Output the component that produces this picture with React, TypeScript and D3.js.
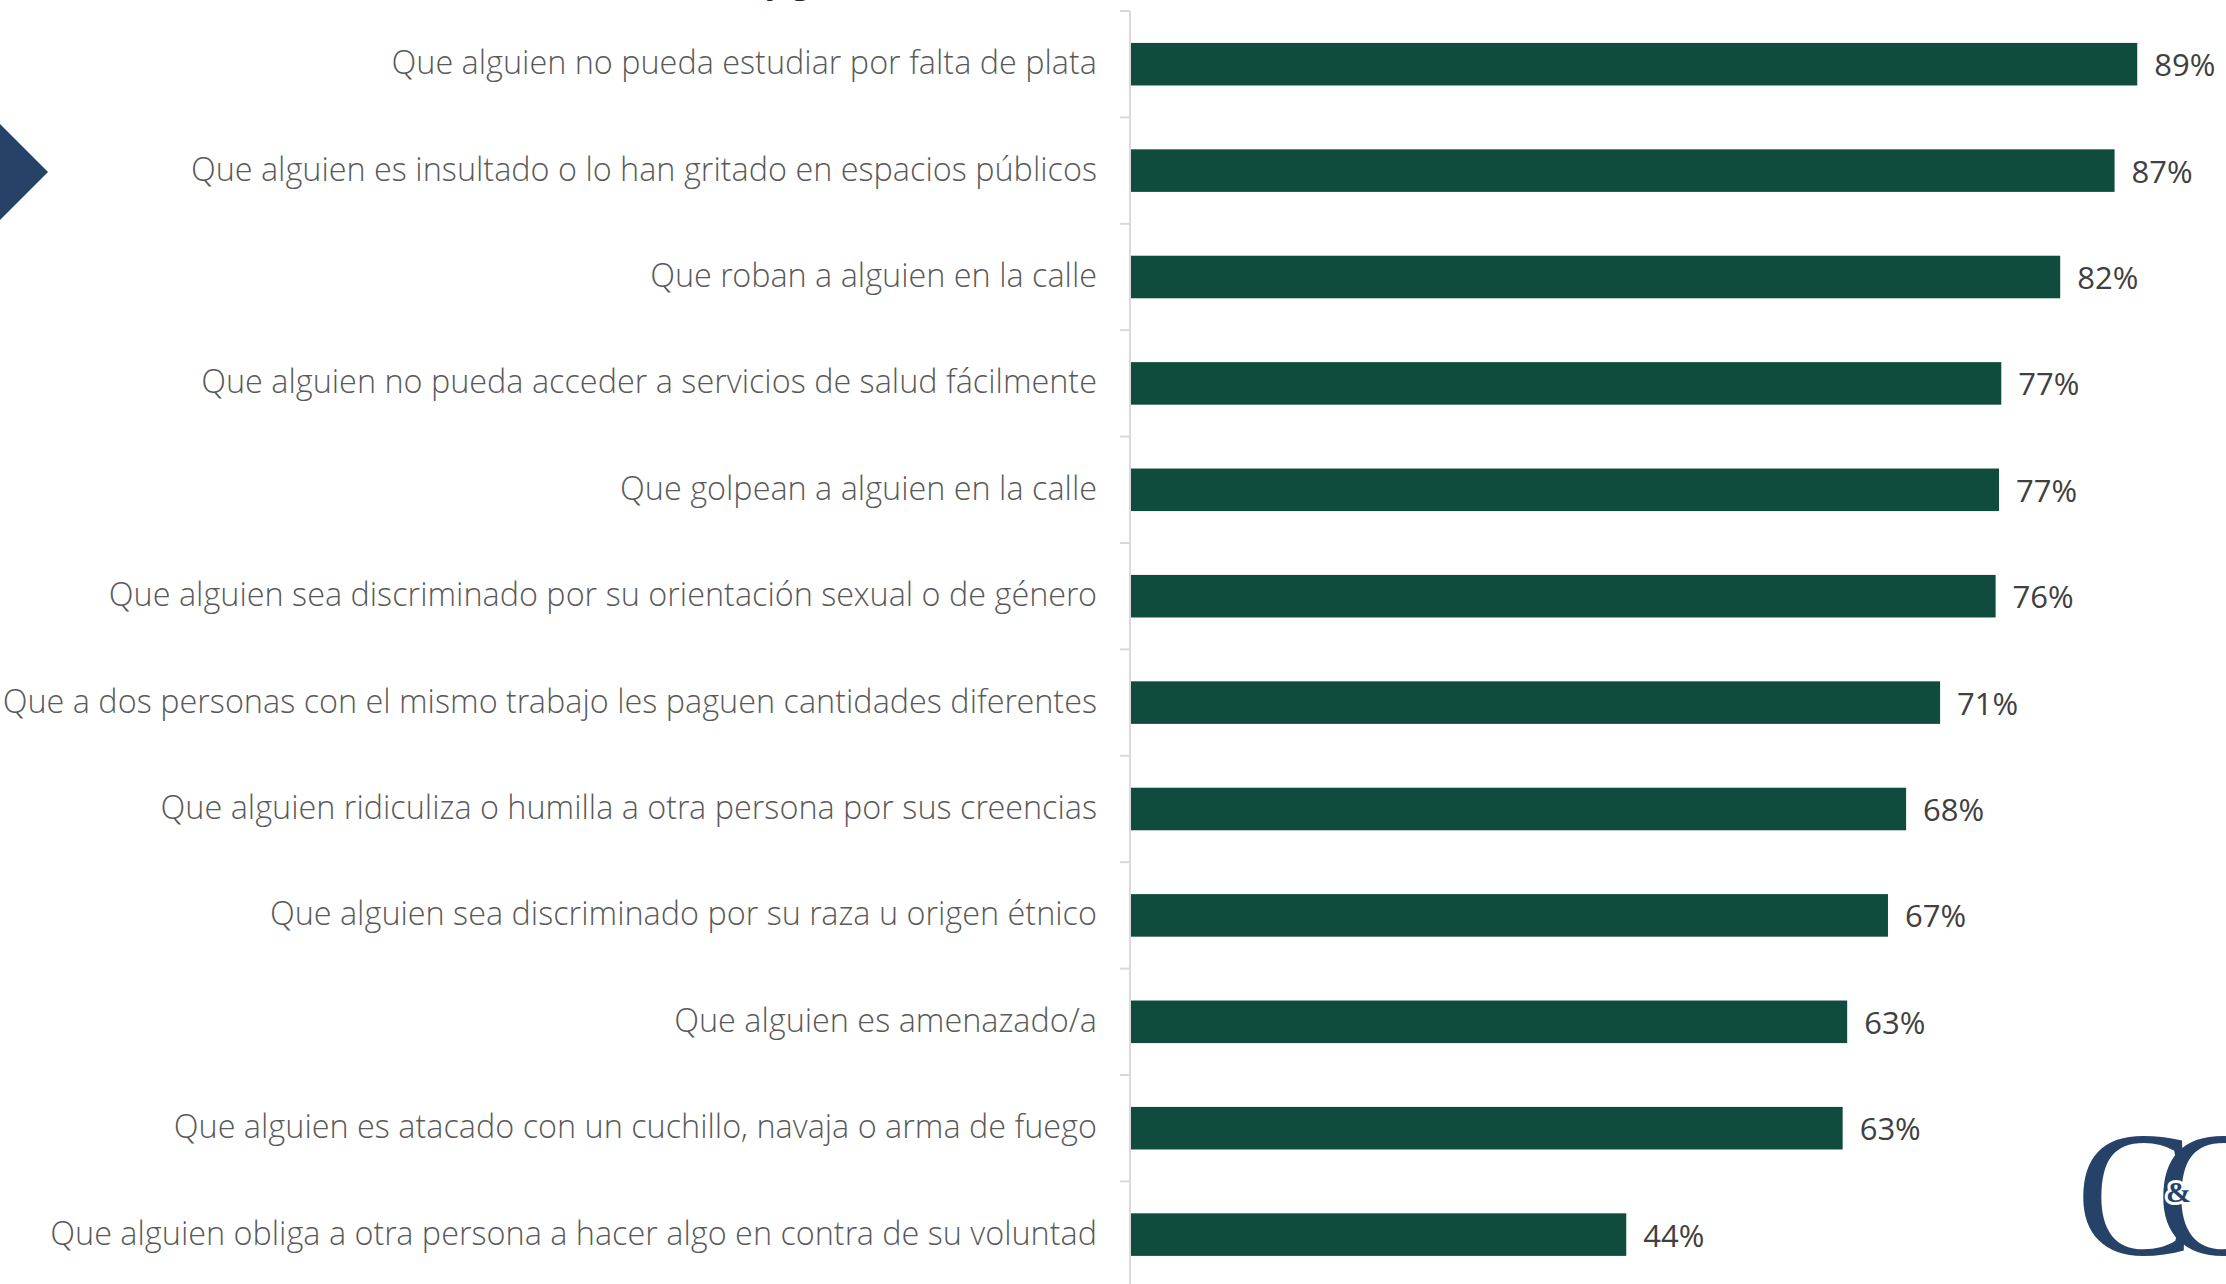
import React from 'react';
import * as d3 from 'd3';

// categories, top to bottom
const categories = [
    'Que alguien no pueda estudiar por falta de plata',
    'Que alguien es insultado o lo han gritado en espacios públicos',
    'Que roban a alguien en la calle',
    'Que alguien no pueda acceder a servicios de salud fácilmente',
    'Que golpean a alguien en la calle',
    'Que alguien sea discriminado por su orientación sexual o de género',
    'Que a dos personas con el mismo trabajo les paguen cantidades diferentes',
    'Que alguien ridiculiza o humilla a otra persona por sus creencias',
    'Que alguien sea discriminado por su raza u origen étnico',
    'Que alguien es amenazado/a',
    'Que alguien es atacado con un cuchillo, navaja o arma de fuego',
    'Que alguien obliga a otra persona a hacer algo en contra de su voluntad',
];

// bar lengths (percent)
const values = [88.9, 86.9, 82.1, 76.9, 76.7, 76.4, 71.5, 68.5, 66.9, 63.3, 62.9, 43.8];

// printed labels
const valueLabels = ['89%', '87%', '82%', '77%', '77%', '76%', '71%', '68%', '67%', '63%', '63%', '44%'];

const W = 2226;
const H = 1284;

const App = () => {
    const axisX = 1130;
    const x = d3.scaleLinear().domain([0, 100]).range([axisX, axisX + 1133]);
    const y = d3.scaleBand<number>()
        .domain(d3.range(categories.length))
        .range([11, 11 + 106.4 * categories.length])
        .paddingInner(0.6)
        .paddingOuter(0.3);

    const step = y.step();
    const ticks = d3.range(categories.length + 1).map(i => 11 + i * step);

    const navy = '#264269';

    return (
        <svg width={W} height={H} style={{ position: 'absolute', left: 0, top: 0, background: '#fff' }}>
            {/* clipped title descenders at the very top */}
            <text x={766} y={-6} fontFamily="'Open Sans', sans-serif" fontWeight={700} fontSize={31} fill="#262626">y g</text>

            {/* left marker */}
            <path d={d3.line()([[0, 124], [48, 172], [0, 220]]) + 'Z'} fill={navy} />

            {/* axis */}
            <line x1={axisX} x2={axisX} y1={11} y2={H} stroke="#d9d9d9" strokeWidth={2} />
            {ticks.map((t, i) => (
                <line key={i} x1={axisX - 10} x2={axisX} y1={t} y2={t} stroke="#d9d9d9" strokeWidth={2} />
            ))}

            {categories.map((c, i) => {
                const cy = (y(i) ?? 0) + y.bandwidth() / 2;
                return (
                    <g key={c}>
                        <text x={1097} y={cy + 10} textAnchor="end" fontFamily="'Open Sans Light', 'Open Sans', sans-serif"
                            fontWeight={300} fontSize={32.4} fill="#595959">{c}</text>
                        <rect x={x(0) + 1} y={y(i)} width={x(values[i]) - x(0) - 1} height={y.bandwidth()}
                            fill="#0f4c3e" />
                        <text x={x(values[i]) + 17} y={cy + 12} fontFamily="'Open Sans', sans-serif"
                            fontSize={31} fill="#404040">{valueLabels[i]}</text>
                    </g>
                );
            })}

            {/* logo */}
            <g fill={navy} fontFamily="'Liberation Serif', serif">
                <text x={2076} y={1254} fontSize={177}>C</text>
                <text x={2156} y={1254} fontSize={177}>C</text>
                <text x={2166} y={1202} fontSize={30} fontWeight={700}
                    stroke="#fff" strokeWidth={6} style={{ paintOrder: 'stroke' }}>&amp;</text>
            </g>
        </svg>
    );
};

export default App;
